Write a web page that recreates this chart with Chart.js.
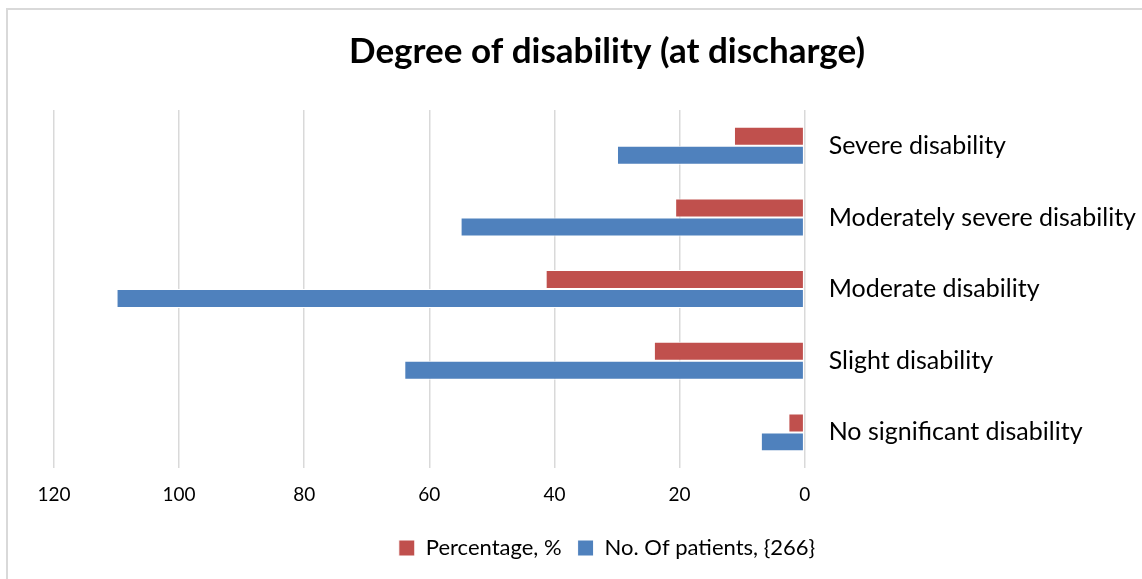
<!DOCTYPE html>
<html>
<head>
<meta charset="utf-8">
<script src="https://cdn.jsdelivr.net/npm/chart.js@4"></script>
<style>
  html, body { margin: 0; padding: 0; background: #fff; }
  #frame { position: absolute; left: 6px; top: 8px; width: 1140px; height: 575px;
           border-left: 2px solid #d9d9d9; border-top: 2px solid #d9d9d9; }
  #wrap { position: absolute; left: 0; top: 0; width: 1142px; height: 579px; }
</style>
</head>
<body>
<div id="frame"></div>
<div id="wrap"><canvas id="chart"></canvas></div>
<script>
// categories, top to bottom
const categories = ['Severe disability', 'Moderately severe disability', 'Moderate disability', 'Slight disability', 'No significant disability'];
const percentage = [11.3, 20.7, 41.4, 24.1, 2.6];
const patients = [30, 55, 110, 64, 7];
const xTicks = [0, 20, 40, 60, 80, 100, 120];

const FONT = 'Lato, "Open Sans", sans-serif';

const ctx = document.getElementById('chart').getContext('2d');
new Chart(ctx, {
  type: 'bar',
  data: {
    labels: categories,
    datasets: [
      {
        label: 'Percentage, %',
        data: percentage,
        backgroundColor: '#C0504D',
        borderColor: '#ffffff',
        borderWidth: 1,
        borderSkipped: false,
        categoryPercentage: 0.53,
        barPercentage: 1.0,
      },
      {
        label: 'No. Of patients, {266}',
        data: patients,
        backgroundColor: '#4F81BD',
        borderColor: '#ffffff',
        borderWidth: 1,
        borderSkipped: false,
        categoryPercentage: 0.53,
        barPercentage: 1.0,
      },
    ],
  },
  options: {
    indexAxis: 'y',
    responsive: true,
    maintainAspectRatio: false,
    animation: false,
    layout: { padding: { left: 54, right: -18, top: 12, bottom: 10 } },
    plugins: {
      title: {
        display: true,
        text: 'Degree of disability (at discharge)',
        color: '#000',
        font: { family: FONT, size: 35, weight: 'bold' },
        padding: { top: 19, bottom: 37 },
      },
      legend: {
        position: 'bottom',
        labels: {
          color: '#000',
          font: { family: FONT, size: 22 },
          boxWidth: 16,
          boxHeight: 16,
          padding: 16,
        },
      },
      tooltip: { enabled: false },
    },
    scales: {
      x: {
        reverse: true,
        min: 0,
        max: 120,
        afterBuildTicks: (axis) => { axis.ticks = xTicks.map(v => ({ value: v })); },
        ticks: { color: '#000', font: { family: FONT, size: 19 }, padding: 15 },
        grid: { color: '#d9d9d9', lineWidth: 1.5, drawTicks: false },
        border: { display: false },
      },
      y: {
        position: 'right',
        ticks: { color: '#000', font: { family: FONT, size: 25 }, padding: 24 },
        grid: { display: false, drawTicks: false },
        border: { display: false },
      },
    },
  },
});
</script>
</body>
</html>
